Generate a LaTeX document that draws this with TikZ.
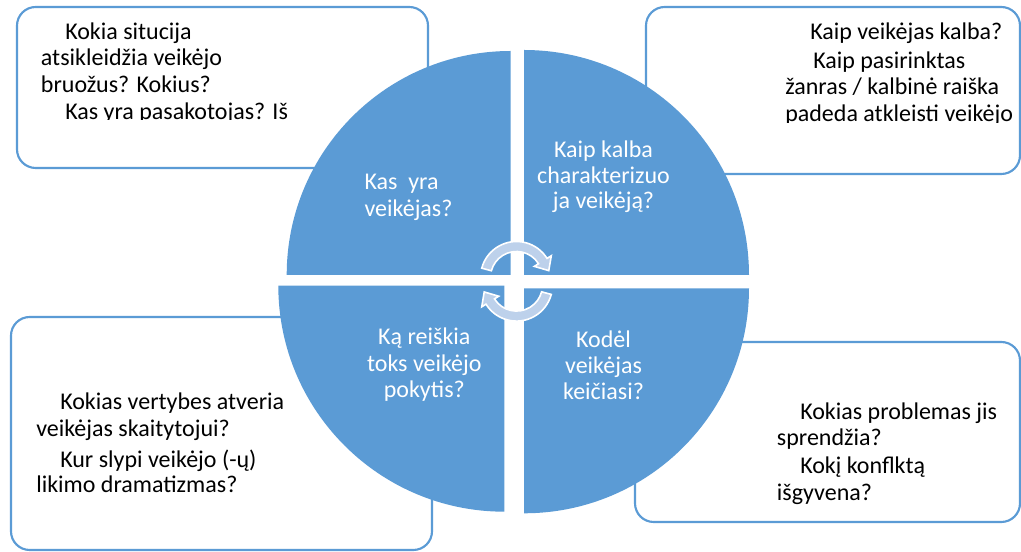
\documentclass[tikz,border=0pt]{standalone}
\usepackage{fontspec}
\setmainfont{Carlito}
\usepackage{tikz}

\definecolor{quadblue}{HTML}{5B9BD5}
\definecolor{arrowfill}{HTML}{BDD1EB}

\tikzset{
    qbox/.style={draw=quadblue, line width=1.6pt, rounded corners=14pt, fill=white},
    quad/.style={fill=quadblue},
    boxtext/.style={anchor=base west, inner sep=0pt, font=\fontsize{18}{21}\selectfont},
    quadtext/.style={anchor=base, inner sep=0pt, text=white, font=\fontsize{18}{21}\selectfont},
    cycarrow/.style={fill=arrowfill, draw=white, line width=1.2pt, line join=miter}
}

\begin{document}
\begin{tikzpicture}[x=0.75pt, y=0.75pt]
    \useasboundingbox (0,0) rectangle (1021,552);

    % question boxes
    \draw[qbox] (17,384) rectangle (428,545);
    \draw[qbox] (646,378) rectangle (1020,545);
    \draw[qbox] (11,2) rectangle (432,235);
    \draw[qbox] (635,30) rectangle (1020,210);

    % the four quarters
    \fill[quad] (510.7,277) -- (286.7,277) arc[start angle=180, end angle=90, radius=224] -- cycle;
    \fill[quad] (524,277) -- (524,502) arc[start angle=90, end angle=0, radius=225] -- cycle;
    \fill[quad] (504.3,266.3) -- (278.3,266.3) arc[start angle=180, end angle=270, radius=226] -- cycle;
    \fill[quad] (524,263.7) -- (749,263.7) arc[start angle=0, end angle=-90, radius=225] -- cycle;

    % box texts, cut at the text area
    \begin{scope}
        \clip (17,432.3) rectangle (428,545);
        \foreach \nm/\px/\py/\txt in {
            tlq1/65/512.7/{Kokia situcija},
            tlq2/40.7/486/{atsikleidžia veikėjo},
            tlq3/40.7/459.3/{bruožus? Kokius?},
            tlq4/65/432.7/{Kas yra pasakotojas? Iš}}{
            \node[boxtext] (\nm) at (\px,\py) {\txt};
        }
    \end{scope}
    \begin{scope}
        \clip (646,429.6) rectangle (1020,545);
        \foreach \nm/\px/\py/\txt in {
            trq1/810/512/{Kaip veikėjas kalba?},
            trq2/813/483.7/{Kaip pasirinktas},
            trq3/785/457/{žanras / kalbinė raiška},
            trq4/785/430/{padeda atkleisti veikėjo}}{
            \node[boxtext] (\nm) at (\px,\py) {\txt};
        }
    \end{scope}
    \foreach \nm/\px/\py/\txt in {
        blq1/60/142/{Kokias vertybes atveria},
        blq2/36/115.3/{veikėjas skaitytojui?},
        blq3/60/84.7/{Kur slypi veikėjo (-ų)},
        blq4/36/59.3/{likimo dramatizmas?},
        brq1/800/132.7/{Kokias problemas jis},
        brq2/776.7/106/{sprendžia?},
        brq3/800/78/{Kokį konflktą},
        brq4/776.7/51.3/{išgyvena?}}{
        \node[boxtext] (\nm) at (\px,\py) {\txt};
    }

    % quarter labels
    \foreach \nm/\py/\txt in {
        kas1/362/{Kas\ \ yra},
        kas2/335.3/{veikėjas?}}{
        \node[quadtext, anchor=base west] (\nm) at (364.3,\py) {\txt};
    }
    \foreach \nm/\px/\py/\txt in {
        kalb1/603.5/394.7/{Kaip kalba},
        kalb2/603.5/368.7/{charakterizuo},
        kalb3/603.5/343.7/{ja veikėją?},
        reis1/424.3/207/{Ką reiškia},
        reis2/424.3/180.3/{toks veikėjo},
        reis3/424.3/154.7/{pokytis?},
        kod1/603.5/204.7/{Kodėl},
        kod2/603.5/178.7/{veikėjas},
        kod3/603.5/152.7/{keičiasi?}}{
        \node[quadtext] (\nm) at (\px,\py) {\txt};
    }

    % cycle arrows in the middle
    \coordinate (hub) at (516.5,270.7);
    \foreach \ang in {0,180}{
        \begin{scope}[shift={(hub)}, rotate=\ang]
            \filldraw[cycarrow, shift={(0,3.8)}]
                (165:36) arc[start angle=165, end angle=32, radius=36]
                -- (32:41) -- (12:33) -- (32:21) -- (32:26)
                arc[start angle=32, end angle=165, radius=26] -- cycle;
        \end{scope}
    }
\end{tikzpicture}
\end{document}
